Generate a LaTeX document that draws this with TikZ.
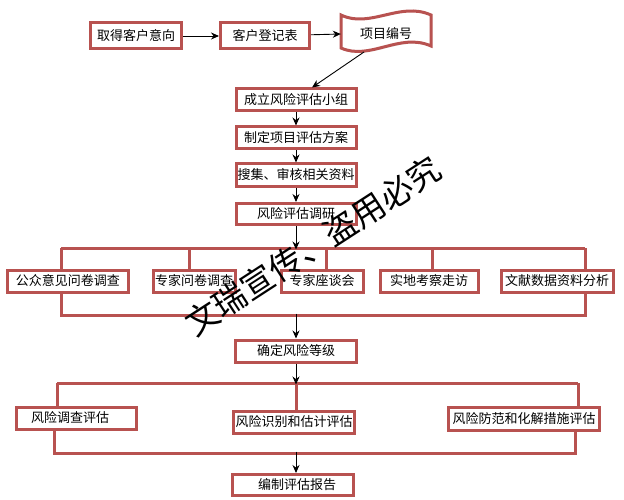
\documentclass[tikz,border=0pt]{standalone}
\usepackage{fontspec}
\newfontfamily\cjk{Noto Sans CJK SC}
\usetikzlibrary{arrows.meta,shadows}
\pgfdeclarelayer{bg}
\pgfsetlayers{bg,main}
\definecolor{boxred}{RGB}{184,82,80}
\begin{document}
\begin{tikzpicture}[x=1pt,y=-1pt,
  box/.style={draw=boxred, line width=3pt, fill=white, inner sep=0pt,
    minimum height=22pt, font=\cjk\fontsize{13}{15}\selectfont,
    drop shadow={shadow xshift=1pt,shadow yshift=-1.5pt,opacity=0.2}},
  frameline/.style={draw=boxred, line width=3pt},
  arr/.style={-{Stealth[length=8pt,width=7pt]}, line width=0.9pt, black},
  wmark/.style={font=\cjk\fontsize{33}{35}\selectfont, black, inner sep=0pt}]
\useasboundingbox (0,0) rectangle (624,500);

% top row
\node[box, minimum width=91pt, minimum height=26pt] (a1) at (136,36) {取得客户意向};
\node[box, minimum width=89pt, minimum height=26pt] (a2) at (265,36) {客户登记表};
\draw[boxred, line width=3pt, fill=white,
  drop shadow={shadow xshift=1pt,shadow yshift=-1.5pt,opacity=0.2}]
  (341,15) .. controls (370,29) and (400,1) .. (431,15)
  -- (431,46) .. controls (400,32) and (370,61) .. (341,48) -- cycle;
\node[font=\cjk\fontsize{13}{15}\selectfont, minimum width=90pt, inner sep=0pt] (a3) at (386,34) {项目编号};
\coordinate (a3s) at (364,52);

% main column
\node[box, minimum width=120pt] (b1) at (296,100) {成立风险评估小组};
\node[box, minimum width=120pt] (b2) at (296,138) {制定项目评估方案};
\node[box, minimum width=120pt] (b3) at (296,175) {搜集、审核相关资料};
\node[box, minimum width=120pt, minimum height=21pt] (b4) at (296,214) {风险评估调研};

% survey row
\node[box, minimum width=121pt] (c1) at (68,281) {公众意见问卷调查};
\node[box, minimum width=82pt] (c2) at (194,281) {专家问卷调查};
\node[box, minimum width=82pt] (c3) at (322,281) {专家座谈会};
\node[box, minimum width=98pt] (c4) at (429,281) {实地考察走访};
\node[box, minimum width=112pt] (c5) at (557,281) {文献数据资料分析};

\node[box, minimum width=121pt] (d) at (296,351) {确定风险等级};

% evaluation row
\node[box, minimum width=120pt] (e1) at (76,418) {\hspace*{-12pt}风险调查评估};
\node[box, minimum width=121pt] (e2) at (294,422) {风险识别和估计评估};
\node[box, minimum width=151pt, minimum height=23pt] (e3) at (524,419) {风险防范和化解措施评估};

\node[box, minimum width=121pt, minimum height=21pt] (f) at (293,485) {\hspace*{8pt}编制评估报告};

% frame coordinates
\coordinate (t1) at (296,248);
\coordinate (t1l) at (61,248);
\coordinate (t1r) at (585,248);
\coordinate (u1l) at (61,315);
\coordinate (u1r) at (585,315);
\coordinate (u1) at (296,315);
\coordinate (t2) at (296,383);
\coordinate (t2l) at (57,383);
\coordinate (t2r) at (578,383);
\coordinate (u2l) at (54,453);
\coordinate (u2r) at (575,453);
\coordinate (u2) at (296,453);

\begin{pgfonlayer}{bg}
  \fill[white] (0,0) rectangle (624,500);
  \draw[frameline] (t1l) -- (t1r);
  \draw[frameline] (t1l) -- (u1l) -- (u1r) -- (t1r);
  \draw[frameline] (189,248) -- (189,270);
  \draw[frameline] (326,248) -- (326,270);
  \draw[frameline] (432,248) -- (432,270);
  \draw[frameline] (t2l) -- (t2r);
  \draw[frameline] (t2l) -- (57,410);
  \draw[frameline] (54,428) -- (u2l) -- (u2r) -- (575,430);
  \draw[frameline] (t2r) -- (578,410);
  \draw[frameline] (t2) -- (296,412);
\end{pgfonlayer}

% arrows
\draw[arr] (a1) -- (a2);
\draw[arr] (a2) -- (a3.west);
\draw[arr] (a3s) -- ([xshift=16pt]b1.north);
\draw[arr] (b1) -- (b2);
\draw[arr] (b2) -- (b3);
\draw[arr] (b3) -- (b4);
\draw[arr] (b4) -- ([yshift=-1.5pt]t1);
\draw[arr] ([yshift=1.5pt]u1) -- (d);
\draw[arr] (d) -- ([yshift=-1.5pt]t2);
\draw[arr] ([yshift=1.5pt]u2) -- (u2 |- f.north);

% watermark
\node[wmark, rotate=33] (wm) at (313,246) {文瑞宣传、盗用必究};
\end{tikzpicture}
\end{document}
